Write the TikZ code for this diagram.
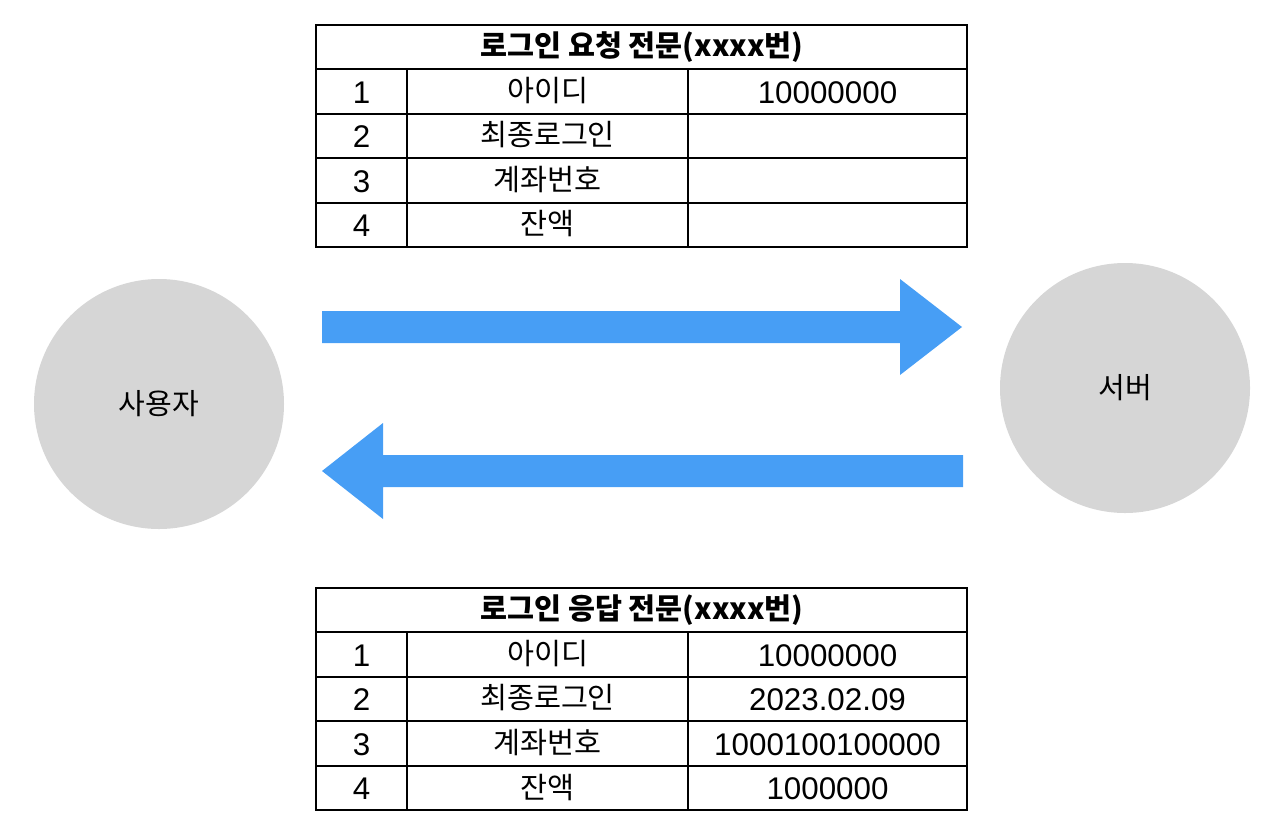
\documentclass[tikz,border=0pt]{standalone}
\usepackage{fontspec}
\setmainfont{Liberation Sans}
\newfontfamily\kr{Noto Sans CJK KR}
\usetikzlibrary{positioning}
\definecolor{arrowblue}{HTML}{479EF5}
\definecolor{circgray}{HTML}{D6D6D6}
\tikzset{
  grid/.style={draw=black, line width=0.9pt},
  headsep/.style={draw=black, line width=2.2pt},
  cell/.style={inner sep=0pt, anchor=center, font=\fontsize{23.5}{26}\selectfont},
  krcell/.style={inner sep=0pt, anchor=center, font=\kr\fontsize{22}{24}\selectfont},
  head/.style={inner sep=0pt, anchor=center, font=\kr\bfseries\fontsize{22}{24}\selectfont},
  actor/.style={circle, fill=circgray, draw=none, minimum size=187.5pt, inner sep=0pt, font=\kr\fontsize{21.8}{24}\selectfont},
  bigarrow/.style={fill=arrowblue, draw=none}
}
\begin{document}
\begin{tikzpicture}[x=0.75pt, y=-0.75pt]
\useasboundingbox (0,0) rectangle (1280,832);

% circles
\node[actor] (user) at (159,404) {사용자};
\node[actor] (server) at (1125,388) {서버};

% arrows
\coordinate (a1t) at (962,327);
\fill[bigarrow] (322,311) -- (900,311) -- (900,279) -- (a1t) -- (900,375) -- (900,343) -- (322,343) -- cycle;
\coordinate (a2t) at (322,471);
\fill[bigarrow] (963,455) -- (383,455) -- (383,423) -- (a2t) -- (383,519) -- (383,487) -- (963,487) -- cycle;

% top table
\draw[grid] (316,25) rectangle (967,247);
\draw[grid] (316,114) -- (967,114);
\draw[grid] (316,158) -- (967,158);
\draw[grid] (316,203) -- (967,203);
\draw[grid] (407,69) -- (407,247);
\draw[grid] (688,69) -- (688,247);
\draw[headsep] (316,69) -- (967,69);
\node[head] (th) at (642,47) {로그인 요청 전문(xxxx번)};
\node[cell] (t1a) at (361.5,93) {1};
\node[krcell] (t1b) at (547.5,91) {아이디};
\node[cell] (t1c) at (827.5,93) {10000000};
\node[cell] (t2a) at (361.5,137) {2};
\node[krcell] (t2b) at (547.5,135) {최종로그인};
\node[cell] (t3a) at (361.5,182) {3};
\node[krcell] (t3b) at (547.5,180) {계좌번호};
\node[cell] (t4a) at (361.5,226) {4};
\node[krcell] (t4b) at (547.5,224) {잔액};

% bottom table
\draw[grid] (316,588) rectangle (967,810);
\draw[grid] (316,677) -- (967,677);
\draw[grid] (316,721) -- (967,721);
\draw[grid] (316,766) -- (967,766);
\draw[grid] (407,632) -- (407,810);
\draw[grid] (688,632) -- (688,810);
\draw[headsep] (316,632) -- (967,632);
\node[head] (bh) at (642,610) {로그인 응답 전문(xxxx번)};
\node[cell] (b1a) at (361.5,656) {1};
\node[krcell] (b1b) at (547.5,654) {아이디};
\node[cell] (b1c) at (827.5,656) {10000000};
\node[cell] (b2a) at (361.5,700) {2};
\node[krcell] (b2b) at (547.5,698) {최종로그인};
\node[cell] (b2c) at (827.5,700) {2023.02.09};
\node[cell] (b3a) at (361.5,745) {3};
\node[krcell] (b3b) at (547.5,743) {계좌번호};
\node[cell] (b3c) at (827.5,745) {1000100100000};
\node[cell] (b4a) at (361.5,789) {4};
\node[krcell] (b4b) at (547.5,787) {잔액};
\node[cell] (b4c) at (827.5,789) {1000000};
\end{tikzpicture}
\end{document}
